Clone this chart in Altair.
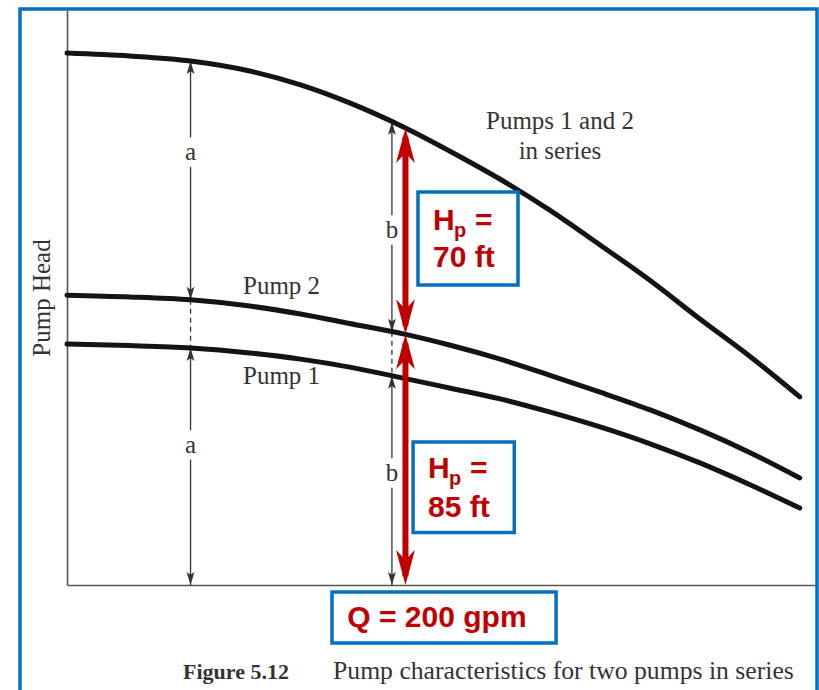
import altair as alt
import numpy as np
import pandas as pd

# ---- curve data -------------------------------------------------------------
# flow rate (gpm) at which each characteristic is sampled
flow_gpm = [0, 37, 73, 108, 138, 167, 200, 226, 256, 285, 315, 345, 374, 404, 433]

# pump head (ft) for each pump alone and for both pumps in series
head_pump1 = [81.7, 81.2, 80.4, 78.7, 76.6, 73.9, 70.0, 66.8, 63.1, 58.7, 53.6, 47.8, 41.4, 33.9, 26.1]
head_pump2 = [98.3, 97.7, 96.7, 94.6, 91.9, 88.7, 85.0, 81.4, 76.6, 71.2, 65.4, 59.3, 52.6, 44.8, 36.3]
head_series = [180.4, 179.4, 177.7, 174.3, 169.6, 163.5, 155.0, 147.2, 137.6, 127.2, 115.3, 103.1, 90.2, 77.3, 63.8]

curve_names = ["Pump 1", "Pump 2", "Pumps 1 and 2 in series"]

# operating point
q_op = 200          # gpm
hp_pump1 = 70       # ft, head added by the upper stage
hp_pump2 = 85       # ft, head added by the lower stage

# dimension lines a / b (flow where they are drawn)
dim_labels = ["a", "b"]
dim_flow = [73, 192]

# ---- scales & axes ----------------------------------------------------------
RED = "#C00000"
BLUE = "#0070C0"
INK = "#333333"
SERIF = "Liberation Serif"
SANS = "Liberation Sans"

x_scale = alt.Scale(domain=[0, 442], nice=False, zero=False)
y_scale = alt.Scale(domain=[0, 195], nice=False, zero=False)
x_axis = alt.Axis(labels=False, ticks=False, grid=False, domainColor="#555555",
                  domainWidth=1.6, title=None)
y_axis = alt.Axis(labels=False, ticks=False, grid=False, domainColor="#555555",
                  domainWidth=1.6, title="Pump Head", titleFont=SERIF,
                  titleFontSize=25, titleFontWeight="normal", titleColor=INK,
                  titlePadding=13)


def X(field):
    return alt.X(field, type="quantitative", scale=x_scale, axis=x_axis)


def Y(field):
    return alt.Y(field, type="quantitative", scale=y_scale, axis=y_axis)


# ---- tables -----------------------------------------------------------------
curves = pd.DataFrame({
    "q": flow_gpm * 3,
    "head": head_pump1 + head_pump2 + head_series,
    "curve": [curve_names[0]] * len(flow_gpm) + [curve_names[1]] * len(flow_gpm)
             + [curve_names[2]] * len(flow_gpm),
})

# dimension arrows at the chosen flows
upper_label_ft = [146.8, 120.4]
lower_label_ft = [47.5, 38.0]
gap = 5.0
seg_rows, dash_rows, up_tips, down_tips, dim_text = [], [], [], [], []
for lab, q, ul, ll in zip(dim_labels, dim_flow, upper_label_ft, lower_label_ft):
    s = float(np.interp(q, flow_gpm, head_series))
    p2 = float(np.interp(q, flow_gpm, head_pump2))
    p1 = float(np.interp(q, flow_gpm, head_pump1))
    seg_rows += [(q, s, ul + gap), (q, ul - gap, p2), (q, p1, ll + gap), (q, ll - gap, 0)]
    dash_rows.append((q, p2, p1))
    up_tips += [(q, s), (q, p1)]
    down_tips += [(q, p2), (q, 0)]
    dim_text += [(q, ul, lab), (q, ll, lab)]

segs = pd.DataFrame(seg_rows, columns=["q", "y1", "y2"])
dashes = pd.DataFrame(dash_rows, columns=["q", "y1", "y2"])
ups = pd.DataFrame(up_tips, columns=["q", "y"])
downs = pd.DataFrame(down_tips, columns=["q", "y"])
dim_txt = pd.DataFrame(dim_text, columns=["q", "y", "t"])

# red head arrows at the operating point
tip_inset = 3.0
red_shafts = pd.DataFrame({
    "q": [q_op, q_op],
    "y1": [tip_inset, hp_pump2 + tip_inset],
    "y2": [hp_pump2 - tip_inset, hp_pump2 + hp_pump1 - tip_inset],
})
red_up = pd.DataFrame({"q": [q_op, q_op], "y": [hp_pump2, hp_pump2 + hp_pump1]})
red_down = pd.DataFrame({"q": [q_op, q_op], "y": [0, hp_pump2]})

# callout boxes (flow / head extents) and their red text
boxes = pd.DataFrame({
    "x1": [207.4, 204.5, 156.6],
    "x2": [266.5, 264.3, 289.0],
    "y1": [133.3, 48.5, -2.4],
    "y2": [101.7, 17.8, -19.7],
})
hp_text = pd.DataFrame({
    "q": [216.3, 213.3],
    "y_head": [120.4, 36.3],
    "y_val": [107.8, 23.1],
    "val": [f"{hp_pump1} ft", f"{hp_pump2} ft"],
})
q_text = pd.DataFrame({"q": [218.6], "y": [-14.2], "t": [f"Q = {q_op} gpm"]})

series_label = pd.DataFrame({
    "q": [291.3, 291.3],
    "y": [154.6, 144.4],
    "t": ["Pumps 1 and 2", "in series"],
})
pump_labels = pd.DataFrame({
    "q": [104.0, 104.0],
    "y": [98.6, 68.2],
    "t": ["Pump 2", "Pump 1"],
})

one = pd.DataFrame({"k": [0]})

# ---- layers -----------------------------------------------------------------
frame = alt.Chart(one).mark_rect(filled=False, stroke=BLUE, strokeWidth=3.5).encode(
    x=alt.value(-47), x2=alt.value(750), y=alt.value(-1), y2=alt.value(700))

dim_lines = alt.Chart(segs).mark_rule(color=INK, strokeWidth=1.3).encode(
    x=X("q"), y=Y("y1"), y2="y2")
dim_dash = alt.Chart(dashes).mark_rule(color=INK, strokeWidth=1.3,
                                       strokeDash=[5, 4]).encode(
    x=X("q"), y=Y("y1"), y2="y2")
small_up = alt.Chart(ups).mark_point(shape="M0,0L0.3,1L0,0.78L-0.3,1Z", size=676,
                                     filled=True, color=INK, opacity=1,
                                     strokeWidth=0).encode(x=X("q"), y=Y("y"))
small_down = alt.Chart(downs).mark_point(shape="M0,0L0.3,-1L0,-0.78L-0.3,-1Z", size=676,
                                         filled=True, color=INK, opacity=1,
                                         strokeWidth=0).encode(x=X("q"), y=Y("y"))
dim_letters = alt.Chart(dim_txt).mark_text(font=SERIF, fontSize=25, color=INK,
                                           baseline="middle", align="center").encode(
    x=X("q"), y=Y("y"), text="t:N")

lines = alt.Chart(curves).mark_line(strokeWidth=5, color="#141414",
                                    interpolate="monotone", strokeCap="round").encode(
    x=X("q"), y=Y("head"), detail="curve:N")

label_style = dict(font=SERIF, fontSize=25, color=INK, baseline="alphabetic")
series_txt = alt.Chart(series_label).mark_text(align="center", **label_style).encode(
    x=X("q"), y=Y("y"), text="t:N")
pump_txt = alt.Chart(pump_labels).mark_text(align="left", **label_style).encode(
    x=X("q"), y=Y("y"), text="t:N")

red_shaft = alt.Chart(red_shafts).mark_rule(color=RED, strokeWidth=6).encode(
    x=X("q"), y=Y("y1"), y2="y2")
red_head_up = alt.Chart(red_up).mark_point(shape="M0,0L0.27,1L0,0.72L-0.27,1Z",
                                           size=4900, filled=True, color=RED,
                                           opacity=1, strokeWidth=0).encode(
    x=X("q"), y=Y("y"))
red_head_down = alt.Chart(red_down).mark_point(shape="M0,0L0.27,-1L0,-0.72L-0.27,-1Z",
                                               size=4900, filled=True, color=RED,
                                               opacity=1, strokeWidth=0).encode(
    x=X("q"), y=Y("y"))

box_rects = alt.Chart(boxes).mark_rect(fill="white", stroke=BLUE, strokeWidth=3.5).encode(
    x=X("x1"), x2="x2", y=Y("y1"), y2="y2")

red_style = dict(font=SANS, fontWeight="bold", color=RED, align="left",
                 baseline="alphabetic")
h_txt = alt.Chart(hp_text).mark_text(fontSize=30, text="H", **red_style).encode(
    x=X("q"), y=Y("y_head"))
p_txt = alt.Chart(hp_text).mark_text(fontSize=20, text="p", dx=21, dy=7,
                                     **red_style).encode(x=X("q"), y=Y("y_head"))
eq_txt = alt.Chart(hp_text).mark_text(fontSize=30, text="=", dx=42,
                                      **red_style).encode(x=X("q"), y=Y("y_head"))
val_txt = alt.Chart(hp_text).mark_text(fontSize=30, **red_style).encode(
    x=X("q"), y=Y("y_val"), text="val:N")
qq_txt = alt.Chart(q_text).mark_text(fontSize=30, font=SANS, fontWeight="bold",
                                     color=RED, align="center",
                                     baseline="alphabetic").encode(
    x=X("q"), y=Y("y"), text="t:N")

cap_bold = alt.Chart(one).mark_text(text="Figure 5.12", font=SERIF, fontWeight="bold",
                                    fontSize=22, color=INK, align="left",
                                    baseline="alphabetic").encode(
    x=alt.value(116), y=alt.value(669))
cap_norm = alt.Chart(one).mark_text(text="Pump characteristics for two pumps in series",
                                    font=SERIF, fontSize=25.7, color=INK, align="left",
                                    baseline="alphabetic").encode(
    x=alt.value(266), y=alt.value(669))

chart = alt.layer(
    frame, dim_lines, dim_dash, small_up, small_down, dim_letters, lines,
    series_txt, pump_txt, red_shaft, red_head_up, red_head_down, box_rects,
    h_txt, p_txt, eq_txt, val_txt, qq_txt, cap_bold, cap_norm,
).properties(
    width=748, height=575,
    padding={"left": 67, "top": 10, "right": 4, "bottom": 105},
    autosize=alt.AutoSizeParams(type="none"),
    background="white",
).configure_view(strokeOpacity=0)

chart.save("out.html", embed_options={"renderer": "svg", "actions": False})
